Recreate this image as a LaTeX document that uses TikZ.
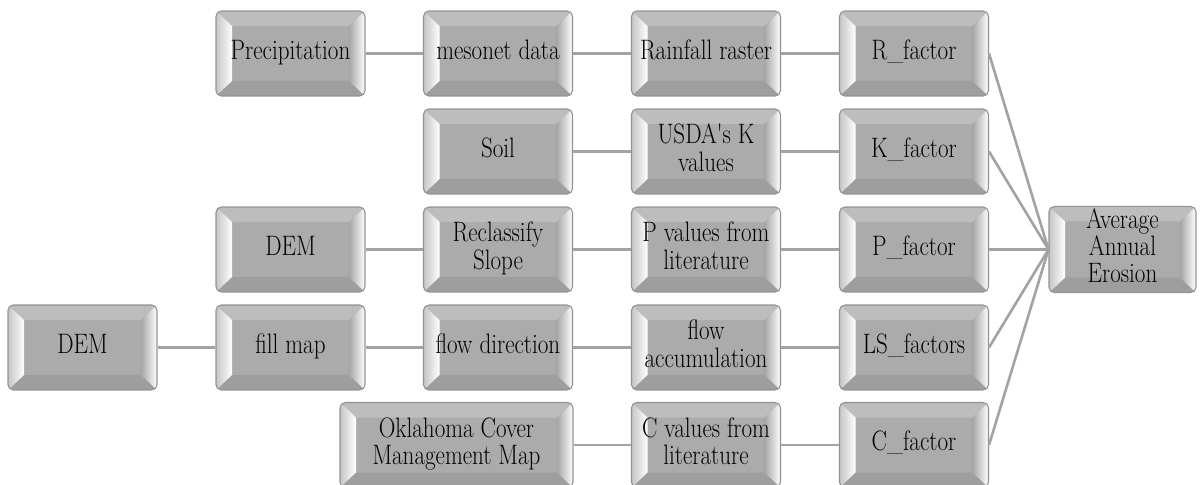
\documentclass[tikz,border=0pt]{standalone}
\usepackage{graphicx}
\usetikzlibrary{calc,positioning}

\newcommand{\boxtext}[1]{\scalebox{0.82}[1]{\begin{tabular}{@{}c@{}}#1\end{tabular}}}

\tikzset{
  bevelbox/.style={rectangle, rounded corners=3pt, draw=gray!85, line width=0.6pt,
    fill=gray!66, minimum width=2.98cm, minimum height=1.7cm, inner sep=1pt,
    align=center, font=\fontsize{16}{15}\selectfont,
    path picture={
      \coordinate (pnw) at (path picture bounding box.north west);
      \coordinate (pne) at (path picture bounding box.north east);
      \coordinate (psw) at (path picture bounding box.south west);
      \coordinate (pse) at (path picture bounding box.south east);
      % bevel faces
      \fill[gray!52, sharp corners] (pnw) -- (pne) -- ($(pne)+(-0.32cm,-0.3cm)$) -- ($(pnw)+(0.32cm,-0.3cm)$) -- cycle;
      \fill[gray!76, sharp corners] (psw) -- (pse) -- ($(pse)+(-0.32cm,0.3cm)$) -- ($(psw)+(0.32cm,0.3cm)$) -- cycle;
      \shade[left color=gray!45, right color=white, sharp corners] (pnw) -- (psw) -- ($(psw)+(0.32cm,0.3cm)$) -- ($(pnw)+(0.32cm,-0.3cm)$) -- cycle;
      \shade[left color=gray!70, right color=white, sharp corners] (pne) -- (pse) -- ($(pse)+(-0.32cm,0.3cm)$) -- ($(pne)+(-0.32cm,-0.3cm)$) -- cycle;
    }},
  link/.style={draw=gray!72, line width=1.5pt}
}

\begin{document}
\begin{tikzpicture}[x=0.02cm, y=-0.02cm]
  \useasboundingbox (0,0) rectangle (1201,484);

  % Rainfall row
  \node[bevelbox] (precip)  at (290.5,53.5) {\boxtext{Precipitation}};
  \node[bevelbox] (mesonet) at (498,53.5)   {\boxtext{mesonet data}};
  \node[bevelbox] (rain)    at (706,53.5)   {\boxtext{Rainfall raster}};
  \node[bevelbox] (rfac)    at (914,53.5)   {\boxtext{R\_factor}};

  % Soil row
  \node[bevelbox] (soil) at (498,151.5) {\boxtext{Soil}};
  \node[bevelbox] (usda) at (706,151.5) {\boxtext{USDA\textquotesingle s K\\values}};
  \node[bevelbox] (kfac) at (914,151.5) {\boxtext{K\_factor}};

  % Slope row
  \node[bevelbox] (dem)     at (290.5,249.5) {\boxtext{DEM}};
  \node[bevelbox] (reclass) at (498,249.5)   {\boxtext{Reclassify\\Slope}};
  \node[bevelbox] (pval)    at (706,249.5)   {\boxtext{P values from\\literature}};
  \node[bevelbox] (pfac)    at (914,249.5)   {\boxtext{P\_factor}};

  % Flow row
  \node[bevelbox] (demb)    at (82.5,347.5)  {\boxtext{DEM}};
  \node[bevelbox] (fill)    at (290.5,347.5) {\boxtext{fill map}};
  \node[bevelbox] (flowdir) at (498,347.5)   {\boxtext{flow direction}};
  \node[bevelbox] (flowacc) at (706,347.5)   {\boxtext{flow\\accumulation}};
  \node[bevelbox] (lsfac)   at (914,347.5)   {\boxtext{LS\_factors}};

  % Cover row
  \node[bevelbox, minimum width=4.66cm] (cover) at (456.5,445) {\boxtext{Oklahoma Cover\\Management Map}};
  \node[bevelbox] (cval) at (706,445) {\boxtext{C values from\\literature}};
  \node[bevelbox] (cfac) at (914,445) {\boxtext{C\_factor}};

  % Result
  \node[bevelbox, minimum width=2.94cm] (erosion) at (1122.5,249.5) {\boxtext{Average\\Annual\\Erosion}};

  % Links
  \foreach \a/\b in {precip/mesonet, mesonet/rain, rain/rfac, soil/usda, usda/kfac,
                     dem/reclass, reclass/pval, pval/pfac, demb/fill, fill/flowdir,
                     flowdir/flowacc, flowacc/lsfac, cover/cval, cval/cfac}
    \draw[link] (\a) -- (\b);
  \foreach \f in {rfac, kfac, pfac, lsfac, cfac}
    \draw[link] (\f.east) -- (erosion.west);
\end{tikzpicture}
\end{document}
